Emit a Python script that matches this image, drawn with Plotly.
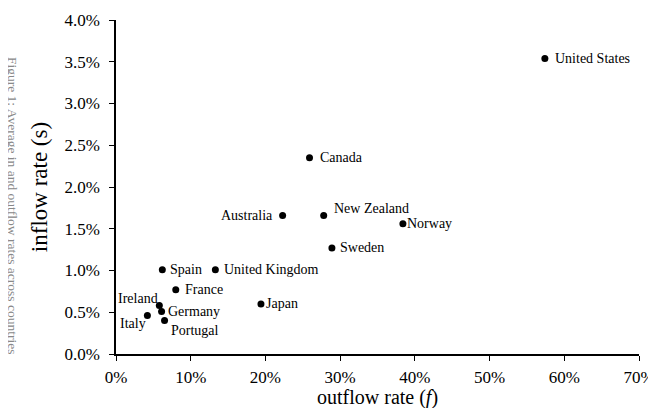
import plotly.graph_objects as go

countries = ["United States", "Canada", "Australia", "New Zealand", "Norway", "Sweden",
             "Spain", "United Kingdom", "France", "Japan", "Ireland", "Germany", "Portugal", "Italy"]
outflow = [0.574, 0.259, 0.223, 0.278, 0.384, 0.289, 0.062, 0.133, 0.080, 0.194, 0.058, 0.061, 0.065, 0.042]
inflow = [0.0354, 0.0235, 0.0166, 0.0166, 0.0156, 0.0127, 0.0101, 0.0101, 0.0077, 0.0060, 0.0058, 0.0051, 0.0040, 0.0046]

# label placement (style only): anchor side, x offset px, y offset px
label_anchor = ["left", "left", "right", "left", "left", "left",
                "left", "left", "left", "left", "right", "left", "left", "right"]
label_dx = [8, 8, -8, 8, 2, 6, 6, 7, 7, 3, 1, 4, 4, 1]
label_dy = [0, 0, 0, 7, 0, 0, 0, 0, 0, 0, 7, 0, -10, -8]

serif = "Times New Roman, Liberation Serif, serif"

# plot area in figure pixels
L, R, T, B = 108, 25, 12, 62
W, H = 656, 408
PW, PH = W - L - R, H - T - B

fig = go.Figure()
fig.add_trace(go.Scatter(
    x=outflow, y=inflow, mode="markers",
    marker=dict(color="black", size=7),
    cliponaxis=False, showlegend=False,
))

annotations = [
    dict(x=xv, y=yv, xref="x", yref="y", text=name, showarrow=False,
         xanchor=anc, yanchor="middle", xshift=dx, yshift=dy,
         font=dict(family=serif, size=14, color="black"))
    for name, xv, yv, anc, dx, dy in zip(countries, outflow, inflow, label_anchor, label_dx, label_dy)
]
annotations += [
    dict(text="Figure 1: Average in and outflow rates across countries",
         xref="paper", yref="paper", x=(5 - L) / PW, y=(H - B - 197) / PH,
         xanchor="center", yanchor="middle",
         textangle=90, showarrow=False, font=dict(family=serif, size=13.5, color="#888888")),
    dict(text="outflow rate (<i>f</i>)", xref="paper", yref="paper",
         x=(369 - L) / PW, y=(H - B - 389) / PH, xanchor="center", yanchor="middle",
         showarrow=False, font=dict(family=serif, size=20, color="black")),
]

fig.update_layout(
    width=W, height=H,
    margin=dict(l=L, r=R, t=T, b=B),
    paper_bgcolor="white", plot_bgcolor="white",
    font=dict(family=serif, color="black"),
    xaxis=dict(range=[0, 0.7], dtick=0.1, tickformat=".0%", showgrid=False, zeroline=False,
               showline=True, linecolor="black", linewidth=1.5, ticks="outside", ticklen=5,
               tickcolor="black", tickfont=dict(family=serif, size=17), ticklabelstandoff=2,
               automargin=False),
    yaxis=dict(range=[0, 0.04], dtick=0.005, tickformat=".1%", showgrid=False, zeroline=False,
               showline=True, linecolor="black", linewidth=1.5, ticks="outside", ticklen=5,
               tickcolor="black", tickfont=dict(family=serif, size=17), ticklabelstandoff=6,
               automargin=False,
               title=dict(text="inflow rate (s)", font=dict(family=serif, size=23), standoff=10)),
    annotations=annotations,
)

fig.write_html("out.html")
